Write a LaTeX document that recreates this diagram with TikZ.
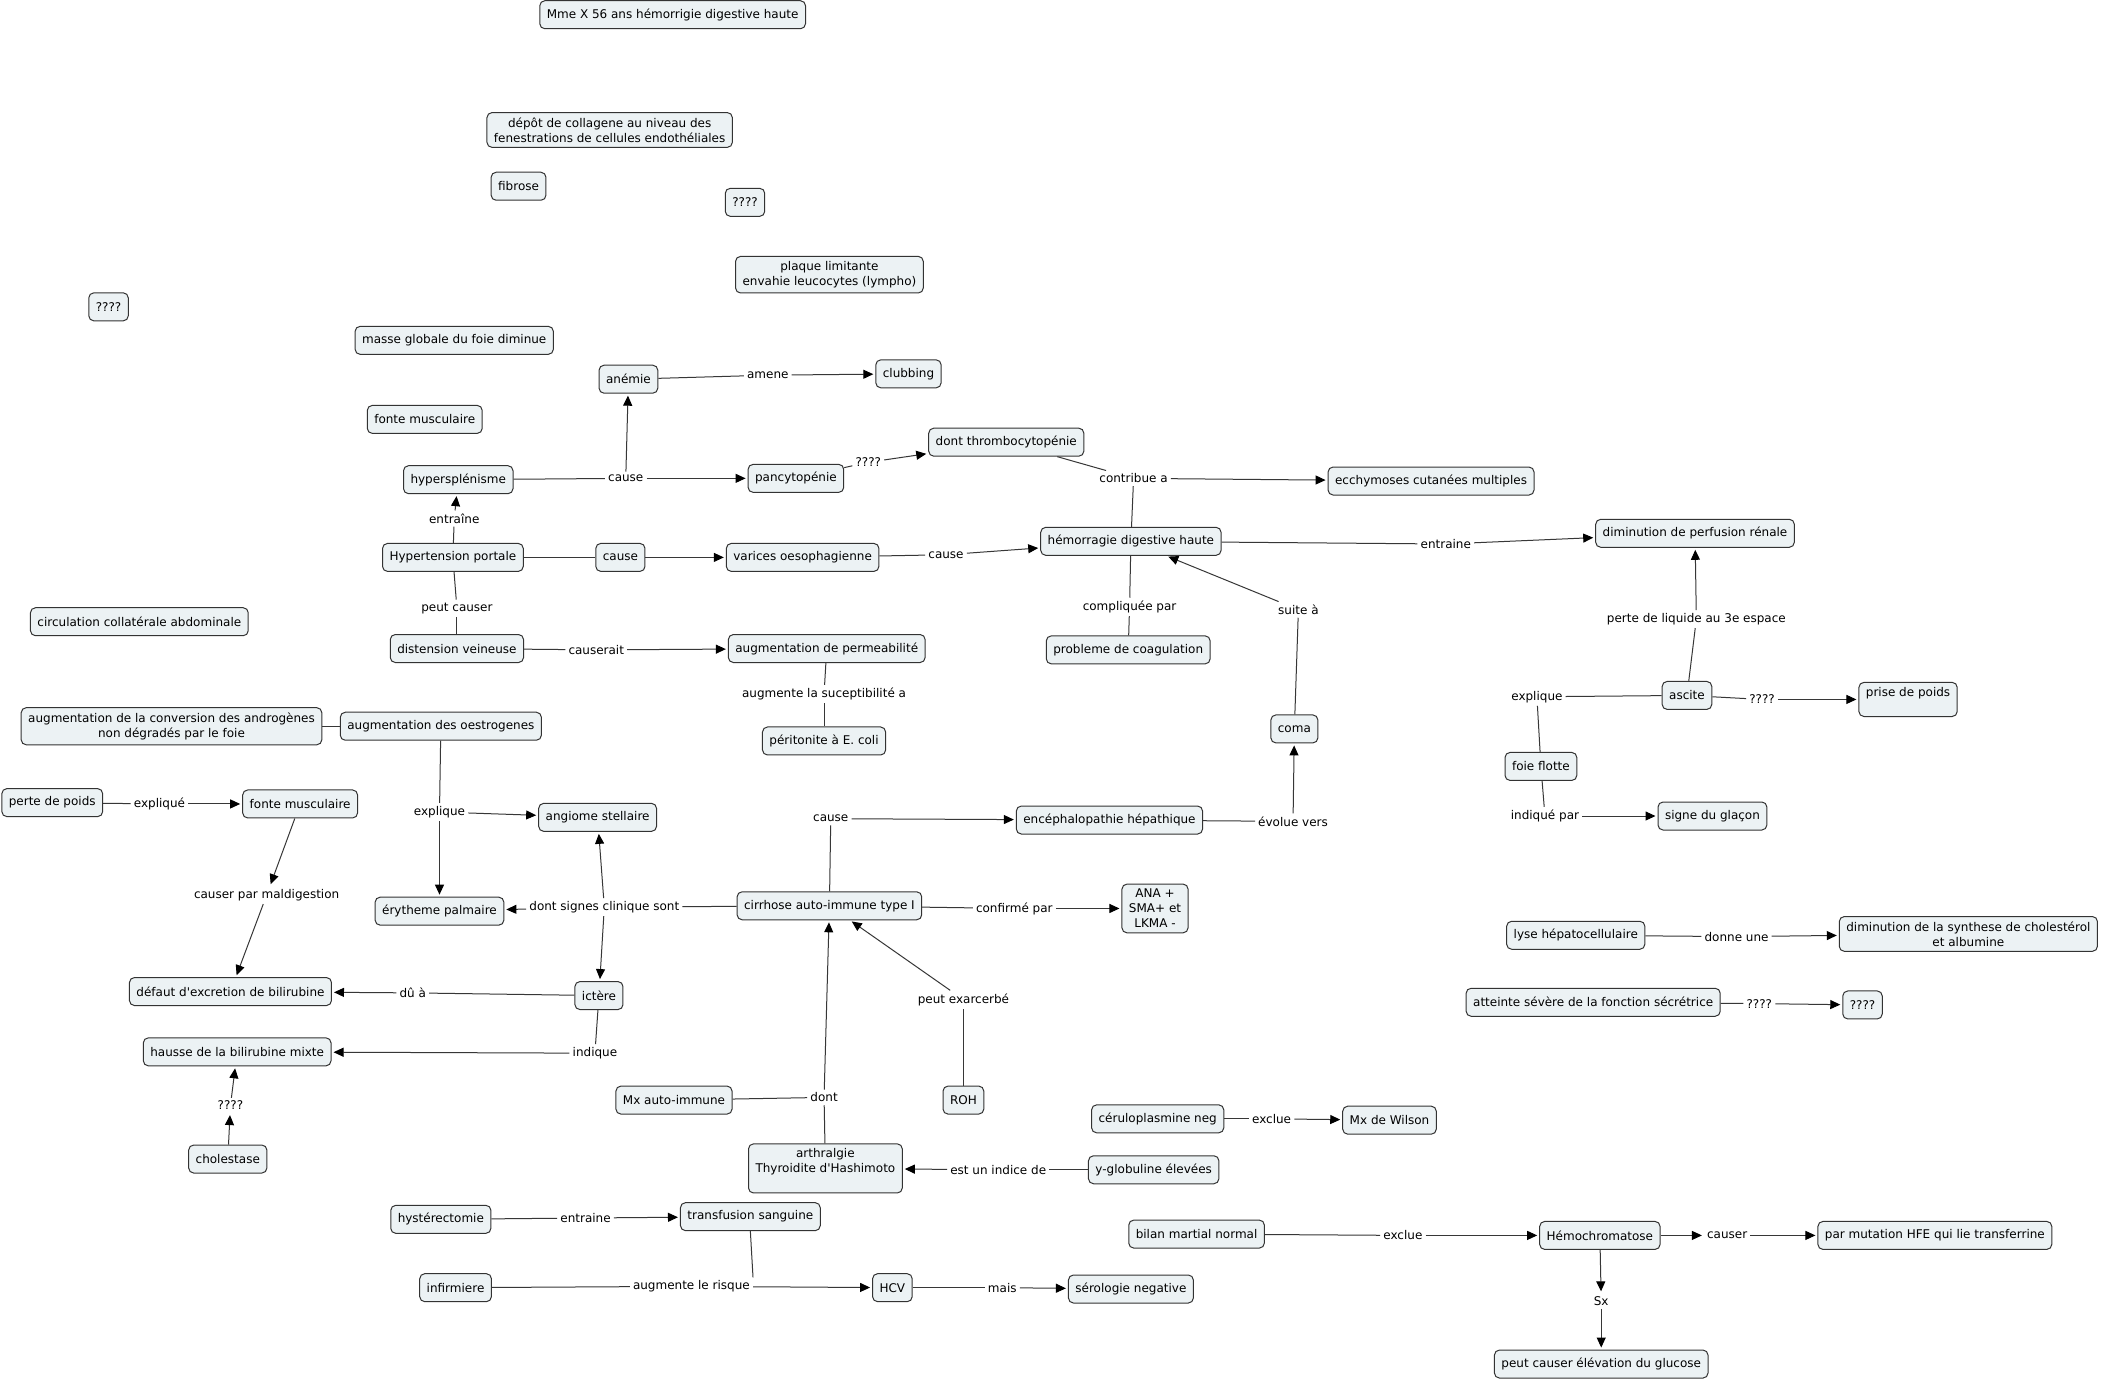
\documentclass[tikz,border=0pt]{standalone}
\usepackage{fontspec}
\setmainfont{DejaVu Sans}
\usepackage{tikz}
\usetikzlibrary{arrows.meta, positioning}
\definecolor{cfill}{RGB}{236,242,244}
\definecolor{cline}{RGB}{55,55,55}
\tikzset{
  %% Concept box
  concept/.style={
    rectangle, rounded corners=5pt,
    draw=black!80, fill=cfill,
    align=center, font=\fontsize{12}{15}\selectfont,
    inner xsep=7pt, inner ysep=5pt, minimum height=28pt,
    line width=1pt
  },
  %% Linking phrase
  lbl/.style={
    font=\fontsize{12}{15}\selectfont, inner sep=3pt
  },
  %% Plain link
  lnk/.style={draw=cline, line width=1pt},
  %% Arrow
  arr/.style={-{Triangle[length=10pt,width=9pt,color=black]},
              draw=cline, line width=1pt, shorten >=2pt},
}

\begin{document}
\begin{tikzpicture}[x=1.34pt, y=-1.34pt]

  \path[fill=white, use as bounding box] (0,0) rectangle (1568,1031);

  %% isolated concepts
  \node[concept] (titre) at (502,11) {Mme X 56 ans hémorrigie digestive haute};
  \node[concept] (depot) at (455,97)
       {dépôt de collagene au niveau des\\fenestrations de cellules endothéliales};
  \node[concept] (fibrose) at (387,139) {fibrose};
  \node[concept] (qa) at (556,151) {????};
  \node[concept] (plaque) at (619,205) {plaque limitante\\envahie leucocytes (lympho)};
  \node[concept] (qb) at (81,229) {????};
  \node[concept] (masse) at (339,254) {masse globale du foie diminue};
  \node[concept] (fonteA) at (317,313) {fonte musculaire};
  \node[concept] (circ) at (104,464) {circulation collatérale abdominale};

  %% portal hypertension
  \node[concept] (anemie) at (469,283) {anémie};
  \node[concept] (clubbing) at (678,279) {clubbing};
  \node[concept] (thrombo) at (751,330) {dont thrombocytopénie};
  \node[concept] (hyper) at (342,358) {hypersplénisme};
  \node[concept] (pancy) at (594,357) {pancytopénie};
  \node[concept] (ecchy) at (1068,359) {ecchymoses cutanées multiples};
  \node[concept] (perfren) at (1265,398) {diminution de perfusion rénale};
  \node[concept] (hemo) at (844,404) {hémorragie digestive haute};
  \node[concept] (htp) at (338,416) {Hypertension portale};
  \node[concept] (causebox) at (463,416) {cause};
  \node[concept] (varices) at (599,416) {varices oesophagienne};
  \node[concept] (dist) at (341,484) {distension veineuse};
  \node[concept] (perm) at (617,484) {augmentation de permeabilité};
  \node[concept] (coag) at (842,485) {probleme de coagulation};
  \node[concept] (perito) at (615,553) {péritonite à E. coli};
  \node[concept] (coma) at (966,544) {coma};

  %% ascite
  \node[concept] (ascite) at (1259,519) {ascite};
  \node[concept] (prise) at (1424,522) {prise de poids\\~};
  \node[concept] (foie) at (1150,572) {foie flotte};
  \node[concept] (glacon) at (1278,609) {signe du glaçon};

  %% cirrhose
  \node[concept] (andro) at (128,542)
       {augmentation de la conversion des androgènes\\non dégradés par le foie};
  \node[concept] (oestro) at (329,542) {augmentation des oestrogenes};
  \node[concept] (pertep) at (39,599) {perte de poids};
  \node[concept] (fonteB) at (224,600) {fonte musculaire};
  \node[concept] (angiome) at (446,610) {angiome stellaire};
  \node[concept] (enceph) at (828,612) {encéphalopathie hépathique};
  \node[concept] (ana) at (862,678) {ANA +\\SMA+ et\\LKMA -};
  \node[concept] (cirrhose) at (619,676) {cirrhose auto-immune type I};
  \node[concept] (erytheme) at (328,680) {érytheme palmaire};
  \node[concept] (lyse) at (1176,698) {lyse hépatocellulaire};
  \node[concept] (synth) at (1469,697)
       {diminution de la synthese de cholestérol\\et albumine};
  \node[concept] (defaut) at (172,740) {défaut d\textquotesingle excretion de bilirubine};
  \node[concept] (ictere) at (447,743) {ictère};
  \node[concept] (atteinte) at (1189,748) {atteinte sévère de la fonction sécrétrice};
  \node[concept] (qc) at (1390,750) {????};
  \node[concept] (hausse) at (177,785) {hausse de la bilirubine mixte};
  \node[concept] (mxai) at (503,821) {Mx auto-immune};
  \node[concept] (roh) at (719,821) {ROH};
  \node[concept] (cerulo) at (864,835) {céruloplasmine neg};
  \node[concept] (wilson) at (1037,836) {Mx de Wilson};
  \node[concept] (cholest) at (170,865) {cholestase};
  \node[concept] (arthr) at (616,872) {arthralgie\\Thyroidite d\textquotesingle Hashimoto\\~};
  \node[concept] (yglob) at (861,873) {y-globuline élevées};

  %% bas
  \node[concept] (hyst) at (329,910) {hystérectomie};
  \node[concept] (transf) at (560,908) {transfusion sanguine};
  \node[concept] (bilan) at (893,921) {bilan martial normal};
  \node[concept] (hemochr) at (1194,922) {Hémochromatose};
  \node[concept] (hfe) at (1444,922) {par mutation HFE qui lie transferrine};
  \node[concept] (infirm) at (340,961) {infirmiere};
  \node[concept] (hcv) at (666,961) {HCV};
  \node[concept] (sero) at (844,962) {sérologie negative};
  \node[concept] (glucose) at (1195,1018) {peut causer élévation du glucose};

  %% linking phrases
  \node[lbl] (l-amene) at (573,280) {amene};
  \node[lbl] (l-cause1) at (467,357) {cause};
  \node[lbl] (l-qq1) at (648,345) {????};
  \node[lbl] (l-contrib) at (846,357) {contribue a};
  \node[lbl] (l-entraine1) at (339,387) {entraîne};
  \node[lbl] (l-cause2) at (706,414) {cause};
  \node[lbl] (l-entraine2) at (1079,406) {entraine};
  \node[lbl] (l-peut) at (341,454) {peut causer};
  \node[lbl] (l-causerait) at (445,485) {causerait};
  \node[lbl] (l-compl) at (843,453) {compliquée par};
  \node[lbl] (l-suite) at (969,455) {suite à};
  \node[lbl] (l-suscep) at (615,518) {augmente la suceptibilité a};
  \node[lbl] (l-perte) at (1266,462) {perte de liquide au 3e espace};
  \node[lbl] (l-expl1) at (1147,520) {explique};
  \node[lbl] (l-qq2) at (1315,522) {????};
  \node[lbl] (l-indique1) at (1153,609) {indiqué par};
  \node[lbl] (l-evolue) at (965,613) {évolue vers};
  \node[lbl] (l-cause3) at (620,611) {cause};
  \node[lbl] (l-expl2) at (119,600) {expliqué};
  \node[lbl] (l-expl3) at (328,606) {explique};
  \node[lbl] (l-maldig) at (199,668) {causer par maldigestion};
  \node[lbl] (l-signes) at (451,677) {dont signes clinique sont};
  \node[lbl] (l-confirme) at (757,678) {confirmé par};
  \node[lbl] (l-donne) at (1296,699) {donne une};
  \node[lbl] (l-du) at (308,741) {dû à};
  \node[lbl] (l-indique2) at (444,786) {indique};
  \node[lbl] (l-qq3) at (1313,749) {????};
  \node[lbl] (l-exarc) at (719,746) {peut exarcerbé};
  \node[lbl] (l-qq4) at (172,825) {????};
  \node[lbl] (l-dont) at (615,819) {dont};
  \node[lbl] (l-exclue1) at (949,835) {exclue};
  \node[lbl] (l-indice) at (745,873) {est un indice de};
  \node[lbl] (l-entraine3) at (437,909) {entraine};
  \node[lbl] (l-risque) at (516,960) {augmente le risque};
  \node[lbl] (l-mais) at (748,961) {mais};
  \node[lbl] (l-exclue2) at (1047,922) {exclue};
  \node[lbl] (l-causer) at (1289,922) {causer};
  \node[lbl] (l-sx) at (1195,971) {Sx};

  %% links
  \draw[lnk] (anemie) -- (l-amene);
  \draw[arr] (l-amene) -- (clubbing);
  \draw[lnk] (hyper) -- (l-cause1);
  \draw[arr] (l-cause1) -- (anemie);
  \draw[arr] (l-cause1) -- (pancy);
  \draw[lnk] (pancy) -- (l-qq1);
  \draw[arr] (l-qq1) -- (thrombo);
  \draw[lnk] (thrombo) -- (l-contrib);
  \draw[lnk] (hemo) -- (l-contrib);
  \draw[arr] (l-contrib) -- (ecchy);
  \draw[lnk] (htp) -- (l-entraine1);
  \draw[arr] (l-entraine1) -- (hyper);
  \draw[lnk] (htp) -- (causebox);
  \draw[arr] (causebox) -- (varices);
  \draw[lnk] (varices) -- (l-cause2);
  \draw[arr] (l-cause2) -- (hemo);
  \draw[lnk] (hemo) -- (l-entraine2);
  \draw[arr] (l-entraine2) -- (perfren);
  \draw[lnk] (htp) -- (l-peut);
  \draw[lnk] (l-peut) -- (dist);
  \draw[lnk] (dist) -- (l-causerait);
  \draw[arr] (l-causerait) -- (perm);
  \draw[lnk] (hemo) -- (l-compl);
  \draw[lnk] (l-compl) -- (coag);
  \draw[lnk] (coma) -- (l-suite);
  \draw[arr] (l-suite) -- (hemo);
  \draw[lnk] (perm) -- (l-suscep);
  \draw[lnk] (l-suscep) -- (perito);
  \draw[lnk] (ascite) -- (l-perte);
  \draw[arr] (l-perte) -- (perfren);
  \draw[lnk] (ascite) -- (l-expl1);
  \draw[lnk] (l-expl1) -- (foie);
  \draw[lnk] (ascite) -- (l-qq2);
  \draw[arr] (l-qq2) -- (prise);
  \draw[lnk] (foie) -- (l-indique1);
  \draw[arr] (l-indique1) -- (glacon);
  \draw[lnk] (enceph) -- (l-evolue);
  \draw[arr] (l-evolue) -- (coma);
  \draw[lnk] (cirrhose) -- (l-cause3);
  \draw[arr] (l-cause3) -- (enceph);
  \draw[lnk] (andro) -- (oestro);
  \draw[lnk] (pertep) -- (l-expl2);
  \draw[arr] (l-expl2) -- (fonteB);
  \draw[lnk] (oestro) -- (l-expl3);
  \draw[arr] (l-expl3) -- (angiome);
  \draw[arr] (l-expl3) -- (erytheme);
  \draw[arr] (fonteB) -- (l-maldig);
  \draw[arr] (l-maldig) -- (defaut);
  \draw[lnk] (cirrhose) -- (l-signes);
  \draw[arr] (l-signes) -- (erytheme);
  \draw[arr] (l-signes) -- (angiome);
  \draw[arr] (l-signes) -- (ictere);
  \draw[lnk] (cirrhose) -- (l-confirme);
  \draw[arr] (l-confirme) -- (ana);
  \draw[lnk] (lyse) -- (l-donne);
  \draw[arr] (l-donne) -- (synth);
  \draw[lnk] (ictere) -- (l-du);
  \draw[arr] (l-du) -- (defaut);
  \draw[lnk] (ictere) -- (l-indique2);
  \draw[arr] (l-indique2) -- (hausse);
  \draw[lnk] (atteinte) -- (l-qq3);
  \draw[arr] (l-qq3) -- (qc);
  \draw[lnk] (roh) -- (l-exarc);
  \draw[arr] (l-exarc) -- (cirrhose);
  \draw[arr] (cholest) -- (l-qq4);
  \draw[arr] (l-qq4) -- (hausse);
  \draw[lnk] (mxai) -- (l-dont);
  \draw[lnk] (arthr) -- (l-dont);
  \draw[arr] (l-dont) -- (cirrhose);
  \draw[lnk] (cerulo) -- (l-exclue1);
  \draw[arr] (l-exclue1) -- (wilson);
  \draw[lnk] (yglob) -- (l-indice);
  \draw[arr] (l-indice) -- (arthr);
  \draw[lnk] (hyst) -- (l-entraine3);
  \draw[arr] (l-entraine3) -- (transf);
  \draw[lnk] (infirm) -- (l-risque);
  \draw[lnk] (transf.south) -- (l-risque.north east);
  \draw[arr] (l-risque) -- (hcv);
  \draw[lnk] (hcv) -- (l-mais);
  \draw[arr] (l-mais) -- (sero);
  \draw[lnk] (bilan) -- (l-exclue2);
  \draw[arr] (l-exclue2) -- (hemochr);
  \draw[arr] (hemochr) -- (l-causer);
  \draw[arr] (l-causer) -- (hfe);
  \draw[arr] (hemochr) -- (l-sx);
  \draw[arr] (l-sx) -- (glucose);

\end{tikzpicture}
\end{document}
